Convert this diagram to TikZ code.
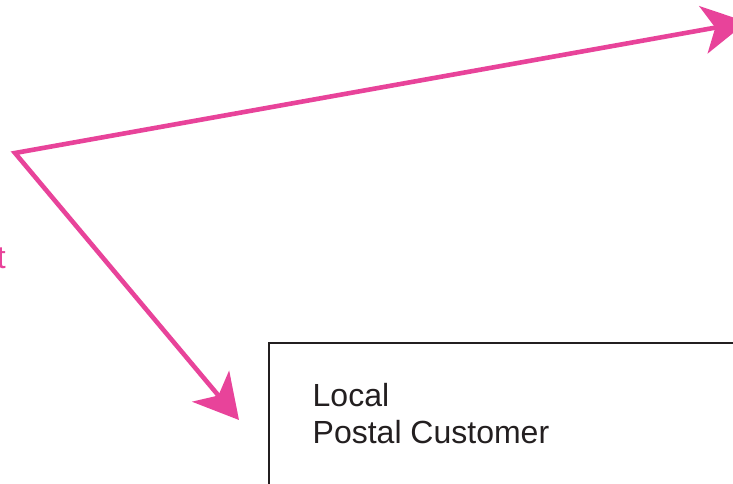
\documentclass[tikz,border=0pt]{standalone}
\usepackage{fontspec}
\setmainfont{Liberation Sans}
\usetikzlibrary{arrows.meta}
\definecolor{pinkline}{HTML}{E8439A}
\definecolor{inkdark}{HTML}{231F20}
\tikzset{
  pinkarrow/.style={draw=pinkline, line width=4.6pt, line join=miter,
    {Stealth[length=44pt,width=48pt,inset=12pt]}-{Stealth[length=44pt,width=48pt,inset=12pt]}},
  custbox/.style={draw=inkdark, line width=2.4pt, minimum width=700pt, minimum height=300pt, anchor=north west, inner sep=0pt},
  bigtext/.style={font=\fontsize{32}{37}\selectfont, inner sep=0pt}
}
\begin{document}
\begin{tikzpicture}[x=1pt,y=-1pt]
\useasboundingbox (0,0) rectangle (733,483);
\clip (0,0) rectangle (733,483);
\fill[white] (0,0) rectangle (733,483);
\node[custbox] (box) at (267.5,341.5) {};
\node[bigtext, text=inkdark, anchor=base west, align=left] (label) at (312.5,443) {Local\\Postal Customer};
\node[bigtext, text=pinkline, anchor=base east] (cut) at (6,268) {t};
\coordinate (corner) at (15,153);
\coordinate (tipA) at (746.8,22);
\coordinate (tipB) at (239,420);
\draw[pinkarrow] (tipA) -- (corner) -- (tipB);
\end{tikzpicture}
\end{document}
